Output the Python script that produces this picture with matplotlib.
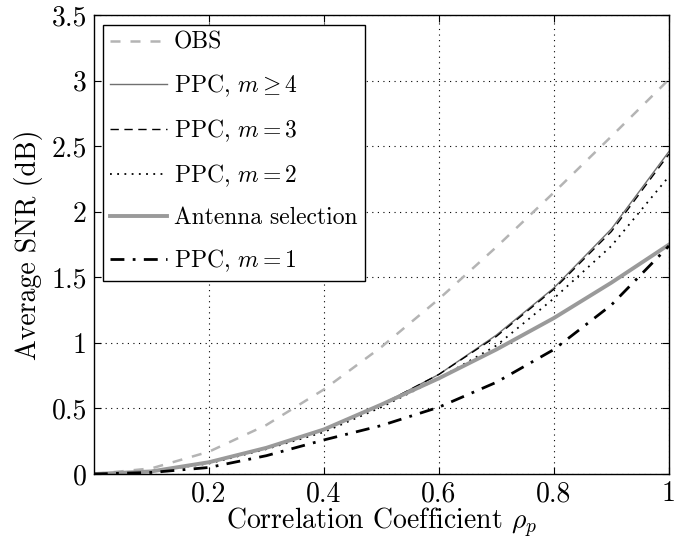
import matplotlib
matplotlib.use("Agg")
import matplotlib.pyplot as plt

# valores
rho = [0.0, 0.1, 0.2, 0.3, 0.4, 0.5, 0.6, 0.7, 0.8, 0.9, 1.0]
obs = [0.0, 0.043, 0.17, 0.374, 0.645, 0.969, 1.335, 1.732, 2.148, 2.576, 3.01]
ppc_m4 = [0.0, 0.02, 0.085, 0.2, 0.34, 0.53, 0.76, 1.06, 1.42, 1.87, 2.46]
ppc_m3 = [0.0, 0.02, 0.085, 0.2, 0.34, 0.53, 0.76, 1.05, 1.41, 1.85, 2.44]
ppc_m2 = [0.0, 0.02, 0.08, 0.19, 0.32, 0.51, 0.73, 0.98, 1.34, 1.74, 2.27]
antenna = [0.0, 0.02, 0.09, 0.2, 0.34, 0.53, 0.73, 0.95, 1.19, 1.46, 1.75]
ppc_m1 = [0.0, 0.012, 0.05, 0.14, 0.26, 0.37, 0.51, 0.7, 0.95, 1.29, 1.74]

plt.rcParams['font.family'] = 'cmr10'
plt.rcParams['mathtext.fontset'] = 'cm'
plt.rcParams['axes.formatter.use_mathtext'] = True

fig = plt.figure(figsize=(6.75, 5.43), dpi=100)
ax = fig.add_axes([0.139, 0.127, 0.852, 0.845])

ax.plot(rho, obs, color='#b4b4b4', linestyle=(0, (4, 4)), lw=1.8, label='OBS')
ax.plot(rho, ppc_m4, color='#707070', linestyle='-', lw=1, label=r'PPC, $m \geq 4$')
ax.plot(rho, ppc_m3, color='black', linestyle=(0, (6, 4)), lw=1, label=r'PPC, $m = 3$')
ax.plot(rho, ppc_m2, color='black', linestyle=(0, (1, 3)), lw=1.3, label=r'PPC, $m = 2$')
ax.plot(rho, antenna, color='#9a9a9a', linestyle='-', lw=2.8, label='Antenna selection')
ax.plot(rho, ppc_m1, color='black', linestyle=(0, (5, 3, 1, 3)), lw=2, label=r'PPC, $m = 1$')

ax.set_xlim(0, 1)
ax.set_ylim(0, 3.5)
ax.set_xticks([0.2, 0.4, 0.6, 0.8, 1.0])
ax.set_xticklabels(['0.2', '0.4', '0.6', '0.8', '1'])
ax.set_yticks([0, 0.5, 1, 1.5, 2, 2.5, 3, 3.5])
ax.set_yticklabels(['0', '0.5', '1', '1.5', '2', '2.5', '3', '3.5'])
ax.tick_params(direction='in', labelsize=20, length=5, top=True, right=True)
ax.tick_params(axis='x', pad=5)
ax.tick_params(axis='y', pad=5)
ax.grid(True, linestyle=(0, (1, 4)), color='black', lw=0.8)
for s in ax.spines.values():
    s.set_linewidth(1)

ax.set_xlabel(r'Correlation Coefficient $\rho_p$', fontsize=20, labelpad=-1)
ax.set_ylabel('Average SNR (dB)', fontsize=20, labelpad=6)

leg = ax.legend(loc='upper left', fontsize=17, fancybox=False, framealpha=1,
                edgecolor='black', handlelength=2.4, handletextpad=0.3,
                borderaxespad=0.4, labelspacing=0.78, borderpad=0.3)
leg.get_frame().set_linewidth(1)

fig.savefig('out.png', dpi=100)
